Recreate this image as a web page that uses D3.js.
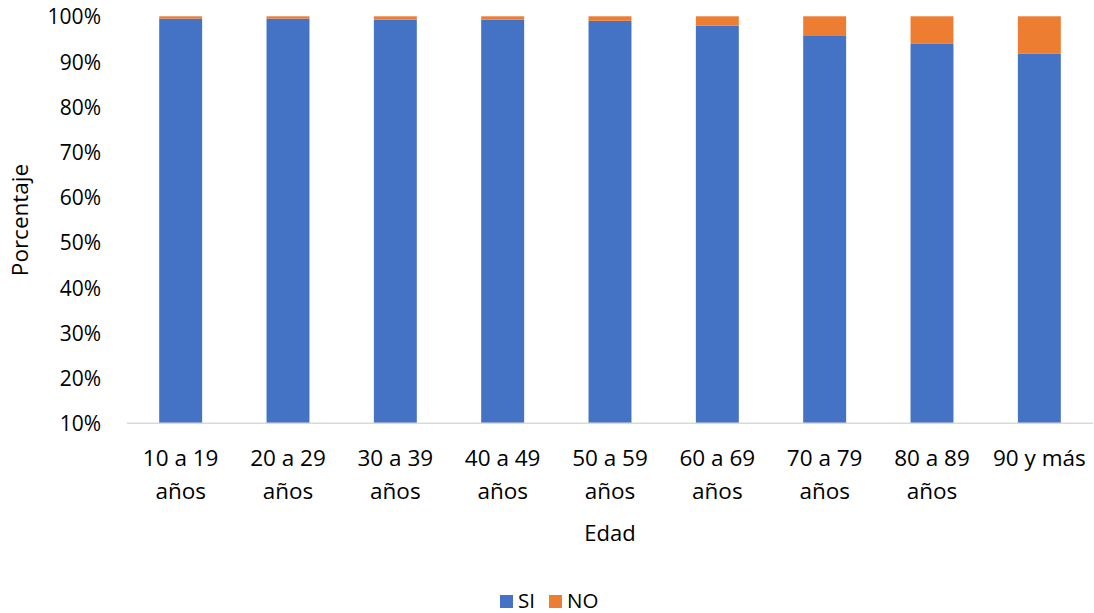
<!DOCTYPE html>
<html><head><meta charset="utf-8">
<script src="https://cdn.jsdelivr.net/npm/d3@7"></script>
<style>body{margin:0;background:#fff}svg{display:block}text{font-family:"Open Sans",sans-serif;fill:#000}</style>
</head><body><svg id="c" width="1094" height="613"></svg>
<script>
const categories = ["10 a 19|años","20 a 29|años","30 a 39|años","40 a 49|años","50 a 59|años","60 a 69|años","70 a 79|años","80 a 89|años","90 y más"];
const siValues = [99.5,99.5,99.25,99.25,99.0,97.9,95.8,93.9,91.7];
const noValues = [0.5,0.5,0.75,0.75,1.0,2.1,4.2,6.1,8.3];
const yTicks = [10,20,30,40,50,60,70,80,90,100];
const seriesNames = ["SI","NO"];
const colors = ["#4472C4","#ED7D31"];

const svg = d3.select("#c");
const x = d3.scaleBand().domain(categories).range([127,1093]).padding(0);
const y = d3.scaleLinear().domain([10,100]).range([423.3,16.3]);

const bw = x.bandwidth();
const g = svg.append("g");
categories.forEach((c,i)=>{
  const bx = x(c)+bw*0.3, w = bw*0.4;
  g.append("rect").attr("x",bx).attr("width",w)
    .attr("y",y(siValues[i])).attr("height",y(10)-y(siValues[i])).attr("fill",colors[0]);
  g.append("rect").attr("x",bx).attr("width",w)
    .attr("y",y(siValues[i]+noValues[i])).attr("height",y(siValues[i])-y(siValues[i]+noValues[i])).attr("fill",colors[1]);
});

svg.append("line").attr("x1",127).attr("x2",1093).attr("y1",y(10)).attr("y2",y(10)).attr("stroke","#d9d9d9").attr("stroke-width",1.5);

const ya = svg.append("g").attr("transform","translate(101,0)")
  .call(d3.axisLeft(y).tickValues(yTicks).tickFormat(d=>d+"%").tickSize(0).tickPadding(0));
ya.select(".domain").remove();
ya.selectAll("text").style("font-size","21px").style("font-family","'Open Sans',sans-serif").attr("fill","#000").attr("dy","0.36em");

categories.forEach(c=>{
  const parts = c.split("|");
  const t = svg.append("text").attr("text-anchor","middle").style("font-size","22.5px");
  parts.forEach((p,j)=>t.append("tspan").attr("x",x(c)+bw/2).attr("y",466+j*33).text(p));
});

svg.append("text").attr("text-anchor","middle").style("font-size","22.5px")
  .attr("transform","translate(28,220) rotate(-90)").text("Porcentaje");
svg.append("text").attr("text-anchor","middle").style("font-size","22px")
  .attr("x",610).attr("y",541).text("Edad");

const leg = svg.append("g");
const lx = [500,549];
seriesNames.forEach((s,i)=>{
  leg.append("rect").attr("x",lx[i]).attr("y",595).attr("width",13).attr("height",13).attr("fill",colors[i]);
  leg.append("text").attr("x",lx[i]+18).attr("y",608).style("font-size","20.5px").text(s);
});
</script></body></html>
